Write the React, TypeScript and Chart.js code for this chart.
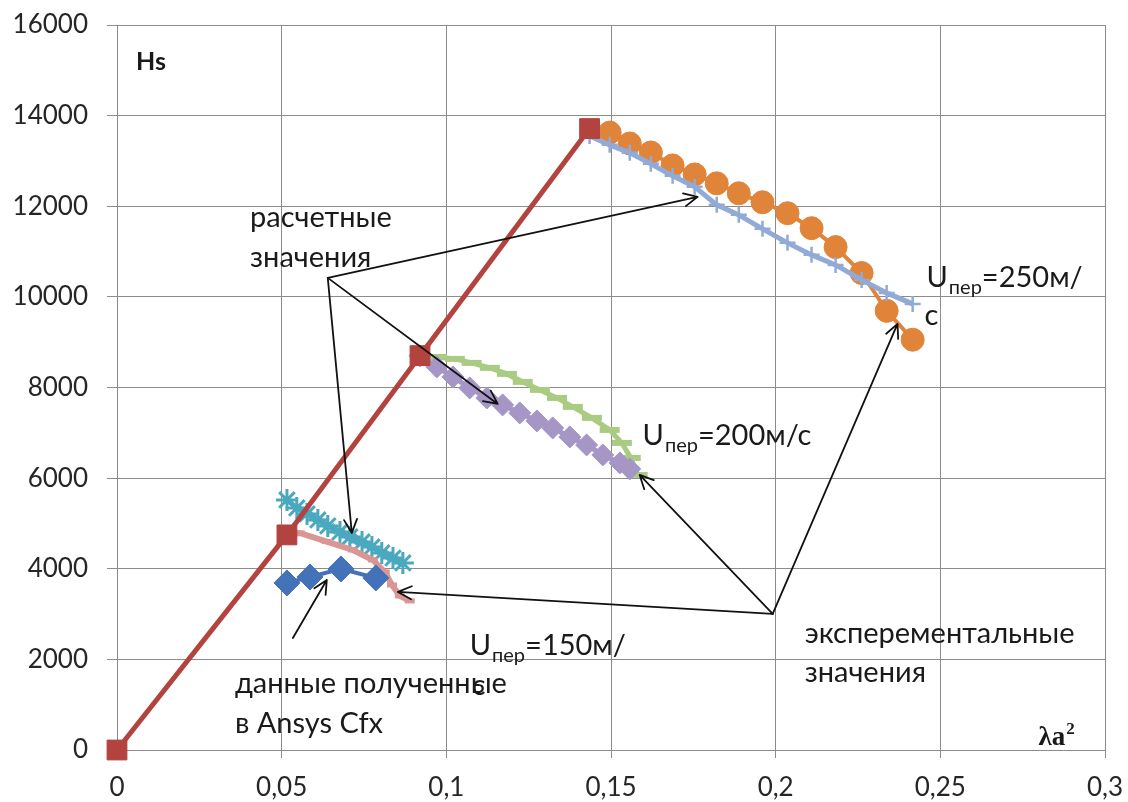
import React, { useEffect, useRef } from 'react';
import { Chart, registerables } from 'chart.js';
Chart.register(...registerables);

// ---- data ----
const redX = [0, 0.0516, 0.092, 0.1435];
const redY = [0, 4747, 8703, 13714];

const orangeX = [0.1496, 0.1557, 0.1621, 0.1687, 0.1754, 0.1821, 0.1888, 0.196, 0.2036, 0.2109, 0.2182, 0.2261, 0.2337, 0.2416];
const orangeY = [13626, 13385, 13187, 12901, 12703, 12505, 12286, 12088, 11846, 11516, 11099, 10527, 9692, 9055];

const lblueX = [0.1435, 0.1496, 0.1557, 0.1621, 0.1687, 0.1754, 0.1821, 0.1888, 0.196, 0.2036, 0.2109, 0.2182, 0.2261, 0.2337, 0.2416];
const lblueY = [13550, 13355, 13179, 12936, 12671, 12428, 12031, 11810, 11501, 11192, 10927, 10706, 10375, 10088, 9845];

const greenX = [0.092, 0.0971, 0.1026, 0.1077, 0.1132, 0.1184, 0.1232, 0.1284, 0.1336, 0.1384, 0.1442, 0.1496, 0.1533, 0.156, 0.1581];
const greenY = [8698, 8675, 8631, 8543, 8433, 8300, 8124, 7947, 7770, 7572, 7329, 7064, 6777, 6446, 6071];

const purpleX = [0.092, 0.0971, 0.102, 0.1071, 0.1123, 0.1171, 0.1223, 0.1275, 0.1323, 0.1375, 0.1426, 0.1475, 0.1527, 0.1557];
const purpleY = [8698, 8455, 8234, 7991, 7770, 7616, 7439, 7263, 7108, 6909, 6733, 6512, 6336, 6203];

const tealX = [0.0516, 0.0546, 0.0577, 0.061, 0.064, 0.0677, 0.0707, 0.0744, 0.0774, 0.0804, 0.0838, 0.0868];
const tealY = [5519, 5342, 5210, 5077, 4945, 4812, 4702, 4592, 4481, 4349, 4238, 4128];

const pinkX = [0.0516, 0.0555, 0.0637, 0.0716, 0.0777, 0.0813, 0.0835, 0.0859, 0.0889];
const pinkY = [4747, 4790, 4600, 4415, 4194, 3929, 3642, 3400, 3290];

const blueX = [0.0516, 0.0586, 0.068, 0.0786];
const blueY = [3687, 3819, 3996, 3797];

const xTicksMin = 0;
const xTicksMax = 0.3;
const xStep = 0.05;
const yMin = 0;
const yMax = 16000;
const yStep = 2000;

// annotation arrows (data coords): [fromX, fromY, toX, toY]
const arrowList = [
  [0.064, 10419, 0.1763, 12208],
  [0.064, 10419, 0.1156, 7638],
  [0.064, 10419, 0.0713, 4790],
  [0.1991, 3002, 0.237, 9404],
  [0.1991, 3002, 0.1587, 6071],
  [0.1991, 3002, 0.0853, 3488],
  [0.0534, 2472, 0.0637, 3753],
];

const noteList = [
  { x: 0.0404, y: 11545, t: 'расчетные' },
  { x: 0.0404, y: 10662, t: 'значения' },
  { x: 0.2088, y: 2362, t: 'эксперементальные' },
  { x: 0.2088, y: 1501, t: 'значения' },
  { x: 0.0358, y: 1258, t: 'данные полученные' },
  { x: 0.0358, y: 375, t: 'в Ansys Cfx' },
  { x: 0.1077, y: 1214, t: 'с' },
  { x: 0.2452, y: 9382, t: 'с' },
];

const speedList = [
  { x: 0.1071, y: 2097, t: '=150м/' },
  { x: 0.1596, y: 6733, t: '=200м/с' },
  { x: 0.2458, y: 10221, t: '=250м/' },
];

function pts(xs: number[], ys: number[]) {
  return xs.map((x, i) => ({ x, y: ys[i] }));
}

const FONT = 'Lato';
const TXT = 29;

export default function App() {
  const ref = useRef<HTMLCanvasElement>(null);
  useEffect(() => {
    document.body.style.margin = '0';
    const annot = {
      id: 'annot',
      afterDatasetsDraw(chart: any) {
        const ctx = chart.ctx;
        const xs = chart.scales.x;
        const ys = chart.scales.y;
        const px = (v: number) => xs.getPixelForValue(v);
        const py = (v: number) => ys.getPixelForValue(v);
        ctx.save();
        ctx.strokeStyle = '#111';
        ctx.lineWidth = 1.8;
        ctx.lineCap = 'round';
        ctx.lineJoin = 'round';
        for (const a of arrowList) {
          const x1 = px(a[0]), y1 = py(a[1]), x2 = px(a[2]), y2 = py(a[3]);
          ctx.beginPath();
          ctx.moveTo(x1, y1);
          ctx.lineTo(x2, y2);
          const ang = Math.atan2(y2 - y1, x2 - x1);
          const L = 15, w = 0.45;
          ctx.moveTo(x2 - L * Math.cos(ang - w), y2 - L * Math.sin(ang - w));
          ctx.lineTo(x2, y2);
          ctx.lineTo(x2 - L * Math.cos(ang + w), y2 - L * Math.sin(ang + w));
          ctx.stroke();
        }
        ctx.fillStyle = '#1a1a1a';
        ctx.textBaseline = 'alphabetic';
        ctx.textAlign = 'left';
        ctx.font = `${TXT}px ${FONT}`;
        for (const n of noteList) {
          ctx.fillText(n.t, px(n.x), py(n.y));
        }
        for (const s of speedList) {
          let x = px(s.x);
          const y = py(s.y);
          ctx.font = `${TXT}px ${FONT}`;
          ctx.fillText('U', x, y);
          x += ctx.measureText('U').width + 1;
          ctx.font = `20px ${FONT}`;
          ctx.fillText('пер', x, y + 7);
          x += ctx.measureText('пер').width;
          ctx.font = `${TXT}px ${FONT}`;
          ctx.fillText(s.t, x, y);
        }
        ctx.font = `bold 25px ${FONT}`;
        ctx.fillText('Hs', px(0.0058), py(15011));
        ctx.font = 'bold 27px "Liberation Serif"';
        const lx = px(0.2798), ly = py(110);
        ctx.fillText('λa', lx, ly);
        const lw = ctx.measureText('λa').width;
        ctx.font = 'bold 17px "Liberation Serif"';
        ctx.fillText('2', lx + lw + 1, ly - 11);
        ctx.restore();
      },
    };

    const line = (data: any, color: string, style: any, radius: number, bw: number, extra: any = {}) => ({
      data,
      showLine: true,
      borderColor: color,
      backgroundColor: color,
      borderWidth: 5,
      pointStyle: style,
      pointRadius: radius,
      pointBorderWidth: bw,
      pointBorderColor: color,
      pointBackgroundColor: color,
      tension: 0,
      clip: false,
      ...extra,
    });

    const chart = new Chart(ref.current as HTMLCanvasElement, {
      type: 'scatter',
      data: {
        datasets: [
          line(pts(redX, redY), '#B3433F', 'rect', 14, 1),
          line(pts(blueX, blueY), '#4472B8', 'rectRot', 13, 1, { borderWidth: 4 }),
          line(pts(pinkX, pinkY), '#DA9694', 'line', 5, 5, { borderWidth: 6 }),
          line(pts(tealX, tealY), '#4AA8BF', 'star', 11, 3),
          line(pts(purpleX, purpleY), '#A596C6', 'rectRot', 11, 1),
          line(pts(greenX, greenY), '#AACB82', 'line', 10, 6),
          line(pts(lblueX, lblueY), '#92AAD6', 'cross', 8, 2.5),
          line(pts(orangeX, orangeY), '#E0843A', 'circle', 11.5, 1, { borderWidth: 4 }),
        ],
      },
      options: {
        animation: false,
        responsive: true,
        maintainAspectRatio: false,
        layout: { padding: { top: 25, right: 23, left: 0, bottom: 0 } },
        plugins: { legend: { display: false }, tooltip: { enabled: false } },
        scales: {
          x: {
            type: 'linear',
            min: xTicksMin,
            max: xTicksMax,
            ticks: {
              stepSize: xStep,
              padding: 14,
              color: '#262626',
              font: { family: FONT, size: 26 },
              callback: (v: any) => String(Math.round(Number(v) * 100) / 100).replace('.', ','),
            },
            grid: { color: '#8c8c8c', lineWidth: 1, tickLength: 8, drawTicks: true },
            border: { color: '#8c8c8c' },
            afterFit: (s: any) => {
              s.height = 52;
              s.paddingLeft = 0;
              s.paddingRight = 0;
              s.paddingTop = 0;
              s.paddingBottom = 0;
            },
          },
          y: {
            type: 'linear',
            min: yMin,
            max: yMax,
            ticks: {
              stepSize: yStep,
              padding: 19,
              color: '#262626',
              font: { family: FONT, size: 26 },
              callback: (v: any) => String(v),
            },
            grid: { color: '#8c8c8c', lineWidth: 1, tickLength: 10 },
            border: { color: '#8c8c8c' },
            afterFit: (s: any) => {
              s.width = 117;
              s.paddingTop = 0;
              s.paddingBottom = 0;
              s.paddingLeft = 0;
              s.paddingRight = 0;
            },
          },
        },
      },
      plugins: [annot],
    } as any);
    return () => chart.destroy();
  }, []);
  return (
    <div style={{ width: 1128, height: 802, position: 'relative' }}>
      <canvas ref={ref} />
    </div>
  );
}
